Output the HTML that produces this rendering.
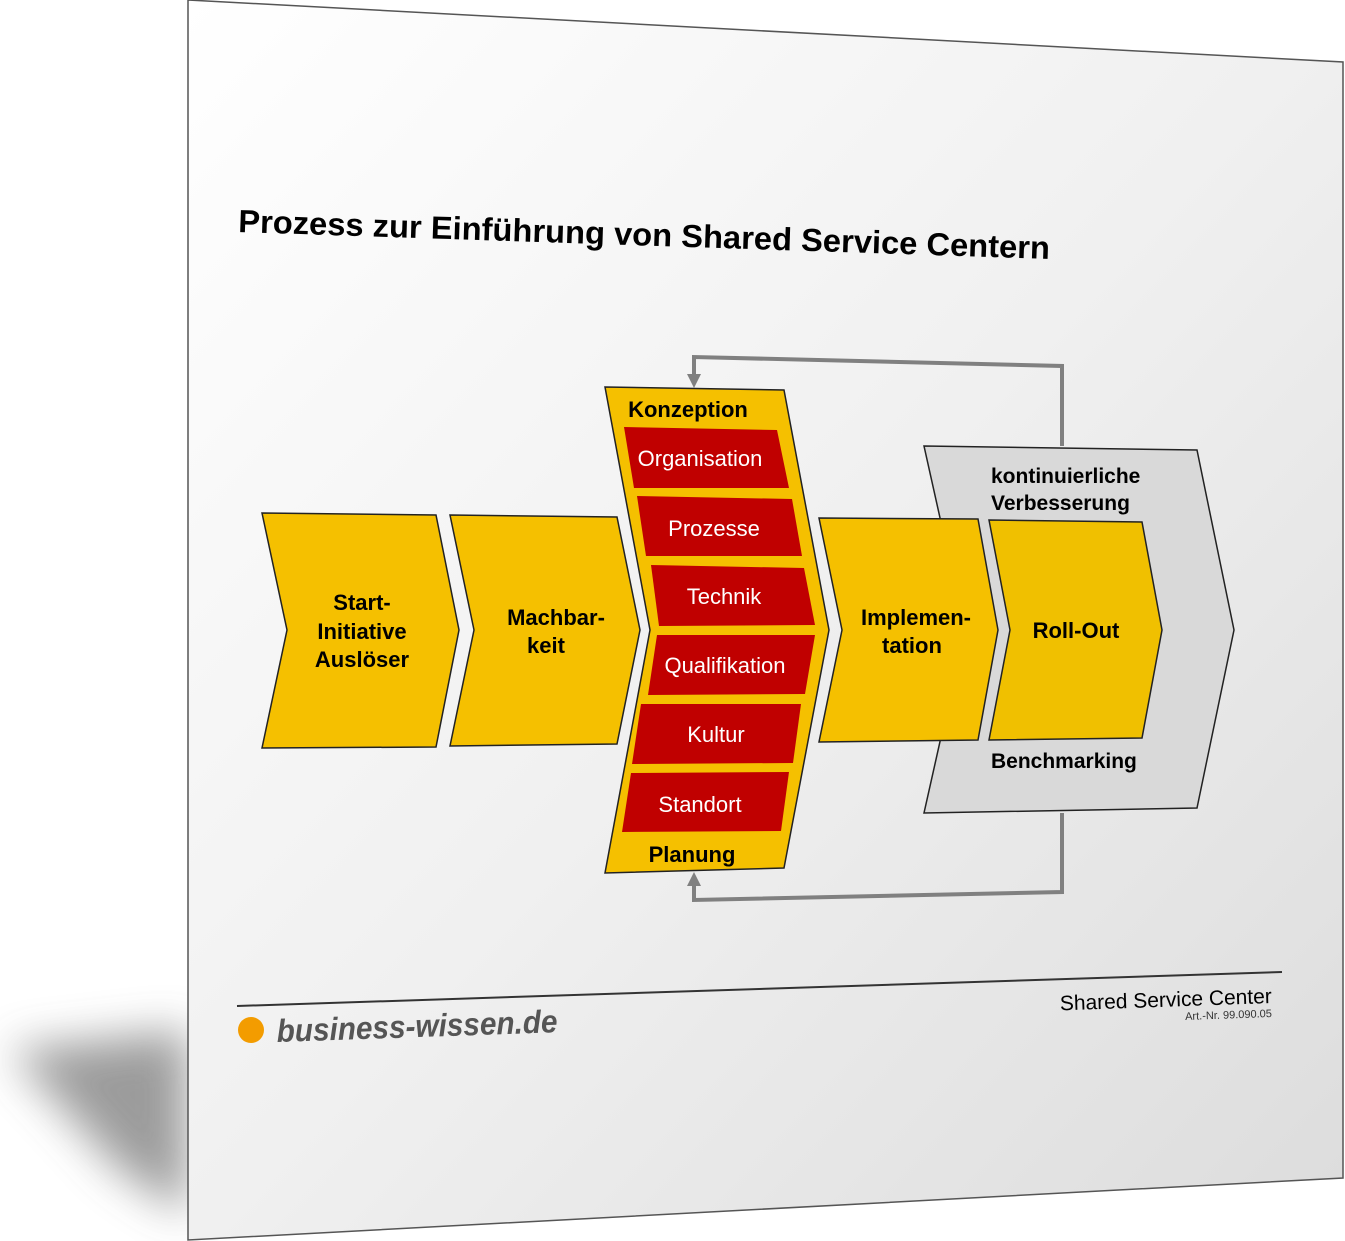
<!DOCTYPE html>
<html><head><meta charset="utf-8"><style>
html,body{margin:0;padding:0;background:#fff;}
svg{display:block;font-family:"Liberation Sans",sans-serif;}
</style></head><body>
<svg width="1345" height="1241" viewBox="0 0 1345 1241" xmlns="http://www.w3.org/2000/svg">
<defs>
<linearGradient id="pg" x1="0" y1="0" x2="1" y2="1">
<stop offset="0" stop-color="#ffffff"/><stop offset="0.5" stop-color="#f0f0f0"/><stop offset="1" stop-color="#dcdcdc"/>
</linearGradient>
<filter id="bl" x="-50%" y="-50%" width="200%" height="200%"><feGaussianBlur stdDeviation="22"/></filter>
</defs>
<polygon points="10,1050 188,1030 188,1215 120,1170" fill="#8a8a8a" filter="url(#bl)" opacity="0.85"/>
<polygon points="188,0 1343,62 1343,1178 188,1240" fill="url(#pg)" stroke="#555" stroke-width="1.5"/>
<text x="238" y="232" font-size="32" font-weight="bold" fill="#000" textLength="812" lengthAdjust="spacingAndGlyphs" transform="rotate(1.9 238 232)">Prozess zur Einführung von Shared Service Centern</text>

<!-- loop lines -->
<polyline points="1062,446 1062,366 694,357 694,378" fill="none" stroke="#808080" stroke-width="4"/>
<polygon points="687,374 701,374 694,388" fill="#808080"/>
<polyline points="1062,813 1062,892 694,900 694,882" fill="none" stroke="#808080" stroke-width="4"/>
<polygon points="687,886 701,886 694,872" fill="#808080"/>

<!-- gray box -->
<polygon points="924,446 1197,450 1234,630 1197,808 924,813 965,630" fill="#d9d9d9" stroke="#222" stroke-width="1.5"/>
<text x="991" y="483" font-size="21" font-weight="bold">kontinuierliche</text>
<text x="991" y="510" font-size="21" font-weight="bold">Verbesserung</text>
<text x="991" y="768" font-size="21" font-weight="bold">Benchmarking</text>

<!-- chevrons -->
<polygon points="262,513 436,515 459,630 436,747 262,748 287,630" fill="#f5c000" stroke="#222" stroke-width="1.5"/>
<polygon points="450,515 617,517 640,630 617,744 450,746 474,630" fill="#f5c000" stroke="#222" stroke-width="1.5"/>
<polygon points="605,387 784,390 829,630 784,868 605,873 650,630" fill="#f5c000" stroke="#222" stroke-width="1.5"/>
<polygon points="819,518 978,519 998,630 978,740 819,742 842,630" fill="#f5c000" stroke="#222" stroke-width="1.5"/>
<polygon points="989,520 1142,522 1162,630 1142,738 989,740 1010,630" fill="#f0c000" stroke="#222" stroke-width="1.5"/>

<g font-size="22" font-weight="bold" text-anchor="middle">
<text x="362" y="610">Start-</text><text x="362" y="639">Initiative</text><text x="362" y="667">Auslöser</text>
<text x="556" y="625">Machbar-</text><text x="546" y="653">keit</text>
<text x="916" y="625">Implemen-</text><text x="912" y="653">tation</text>
<text x="1076" y="638">Roll-Out</text>
<text x="688" y="417">Konzeption</text>
<text x="692" y="862">Planung</text>
</g>

<!-- red bars -->
<g fill="#c00000">
<polygon points="624,427 777,430 789,488 634,488"/>
<polygon points="637,496 792,499 802,556 646,556"/>
<polygon points="651,565 804,568 815,625 659,626"/>
<polygon points="657,635 815,635 805,694 648,695"/>
<polygon points="641,704 801,704 793,763 632,764"/>
<polygon points="631,773 789,772 781,831 622,832"/>
</g>
<g font-size="22" fill="#fff" text-anchor="middle">
<text x="700" y="466">Organisation</text>
<text x="714" y="536">Prozesse</text>
<text x="724" y="604">Technik</text>
<text x="725" y="673">Qualifikation</text>
<text x="716" y="742">Kultur</text>
<text x="700" y="812">Standort</text>
</g>

<!-- footer -->
<line x1="237" y1="1006" x2="1282" y2="972" stroke="#333" stroke-width="2"/>
<ellipse cx="251" cy="1030" rx="13" ry="13" fill="#f39c00"/>
<text x="277" y="1042" font-size="32" font-weight="bold" font-style="italic" fill="#555" textLength="281" lengthAdjust="spacingAndGlyphs" transform="rotate(-2 277 1042)">business-wissen.de</text>
<text x="1272" y="1003" font-size="21" text-anchor="end" textLength="212" lengthAdjust="spacingAndGlyphs" transform="rotate(-2 1272 1003)">Shared Service Center</text>
<text x="1272" y="1017" font-size="11" text-anchor="end" fill="#333" transform="rotate(-2 1272 1017)">Art.-Nr. 99.090.05</text>
</svg>
</body></html>
